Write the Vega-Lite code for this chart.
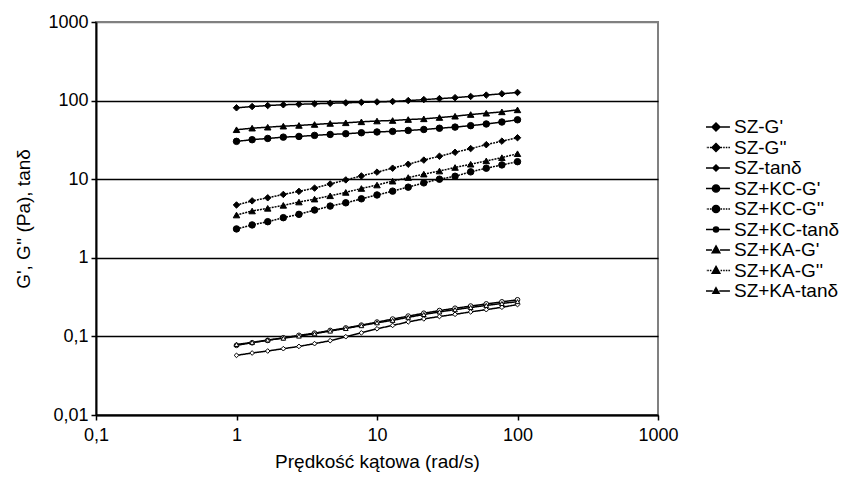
{
  "$schema": "https://vega.github.io/schema/vega-lite/v6.json",
  "autosize": {"type": "none"},
  "padding": {"left": 96, "top": 22, "right": 187, "bottom": 65},
  "width": 562,
  "height": 393,
  "background": "white",
  "config": {
    "view": {"stroke": "#808080", "strokeWidth": 2},
    "font": "Liberation Sans",
    "axis": {"labelFont": "Liberation Sans", "titleFont": "Liberation Sans", "labelColor": "black", "titleColor": "black", "titleFontWeight": "normal", "domainColor": "black", "domainWidth": 2, "tickColor": "black", "tickWidth": 1.5, "tickSize": 5, "labelFontSize": 18, "titleFontSize": 19}
  },
  "data": {"values": [
    {"x":1,"v":81,"series":"SZ-G'"},{"x":1.292,"v":84,"series":"SZ-G'"},{"x":1.668,"v":86.5,"series":"SZ-G'"},{"x":2.154,"v":88.5,"series":"SZ-G'"},{"x":2.783,"v":89.8,"series":"SZ-G'"},{"x":3.594,"v":91,"series":"SZ-G'"},{"x":4.642,"v":92.5,"series":"SZ-G'"},{"x":5.995,"v":93.7,"series":"SZ-G'"},{"x":7.743,"v":95,"series":"SZ-G'"},{"x":10,"v":96.2,"series":"SZ-G'"},{"x":12.92,"v":97.5,"series":"SZ-G'"},{"x":16.68,"v":100,"series":"SZ-G'"},{"x":21.54,"v":103,"series":"SZ-G'"},{"x":27.83,"v":106,"series":"SZ-G'"},{"x":35.94,"v":109,"series":"SZ-G'"},{"x":46.42,"v":113,"series":"SZ-G'"},{"x":59.95,"v":117.5,"series":"SZ-G'"},{"x":77.43,"v":122,"series":"SZ-G'"},{"x":100,"v":127,"series":"SZ-G'"},
    {"x":1,"v":4.7,"series":"SZ-G''"},{"x":1.292,"v":5.3,"series":"SZ-G''"},{"x":1.668,"v":5.8,"series":"SZ-G''"},{"x":2.154,"v":6.4,"series":"SZ-G''"},{"x":2.783,"v":7.0,"series":"SZ-G''"},{"x":3.594,"v":7.7,"series":"SZ-G''"},{"x":4.642,"v":8.7,"series":"SZ-G''"},{"x":5.995,"v":9.8,"series":"SZ-G''"},{"x":7.743,"v":11.0,"series":"SZ-G''"},{"x":10,"v":12.3,"series":"SZ-G''"},{"x":12.92,"v":13.8,"series":"SZ-G''"},{"x":16.68,"v":15.5,"series":"SZ-G''"},{"x":21.54,"v":17.5,"series":"SZ-G''"},{"x":27.83,"v":19.6,"series":"SZ-G''"},{"x":35.94,"v":22.0,"series":"SZ-G''"},{"x":46.42,"v":24.5,"series":"SZ-G''"},{"x":59.95,"v":27.5,"series":"SZ-G''"},{"x":77.43,"v":30.5,"series":"SZ-G''"},{"x":100,"v":33.7,"series":"SZ-G''"},
    {"x":1,"v":0.0574,"series":"SZ-tanδ"},{"x":1.292,"v":0.0615,"series":"SZ-tanδ"},{"x":1.668,"v":0.0652,"series":"SZ-tanδ"},{"x":2.154,"v":0.0698,"series":"SZ-tanδ"},{"x":2.783,"v":0.0746,"series":"SZ-tanδ"},{"x":3.594,"v":0.0809,"series":"SZ-tanδ"},{"x":4.642,"v":0.0882,"series":"SZ-tanδ"},{"x":5.995,"v":0.0991,"series":"SZ-tanδ"},{"x":7.743,"v":0.111,"series":"SZ-tanδ"},{"x":10,"v":0.125,"series":"SZ-tanδ"},{"x":12.92,"v":0.138,"series":"SZ-tanδ"},{"x":16.68,"v":0.153,"series":"SZ-tanδ"},{"x":21.54,"v":0.167,"series":"SZ-tanδ"},{"x":27.83,"v":0.179,"series":"SZ-tanδ"},{"x":35.94,"v":0.191,"series":"SZ-tanδ"},{"x":46.42,"v":0.205,"series":"SZ-tanδ"},{"x":59.95,"v":0.219,"series":"SZ-tanδ"},{"x":77.43,"v":0.235,"series":"SZ-tanδ"},{"x":100,"v":0.254,"series":"SZ-tanδ"},
    {"x":1,"v":30.3,"series":"SZ+KC-G'"},{"x":1.292,"v":31.8,"series":"SZ+KC-G'"},{"x":1.668,"v":33.0,"series":"SZ+KC-G'"},{"x":2.154,"v":34.3,"series":"SZ+KC-G'"},{"x":2.783,"v":35.0,"series":"SZ+KC-G'"},{"x":3.594,"v":36.1,"series":"SZ+KC-G'"},{"x":4.642,"v":37.1,"series":"SZ+KC-G'"},{"x":5.995,"v":37.9,"series":"SZ+KC-G'"},{"x":7.743,"v":39.0,"series":"SZ+KC-G'"},{"x":10,"v":39.9,"series":"SZ+KC-G'"},{"x":12.92,"v":40.6,"series":"SZ+KC-G'"},{"x":16.68,"v":41.7,"series":"SZ+KC-G'"},{"x":21.54,"v":42.9,"series":"SZ+KC-G'"},{"x":27.83,"v":44.5,"series":"SZ+KC-G'"},{"x":35.94,"v":46.0,"series":"SZ+KC-G'"},{"x":46.42,"v":48.0,"series":"SZ+KC-G'"},{"x":59.95,"v":50.4,"series":"SZ+KC-G'"},{"x":77.43,"v":53.4,"series":"SZ+KC-G'"},{"x":100,"v":57.0,"series":"SZ+KC-G'"},
    {"x":1,"v":2.33,"series":"SZ+KC-G''"},{"x":1.292,"v":2.62,"series":"SZ+KC-G''"},{"x":1.668,"v":2.88,"series":"SZ+KC-G''"},{"x":2.154,"v":3.24,"series":"SZ+KC-G''"},{"x":2.783,"v":3.57,"series":"SZ+KC-G''"},{"x":3.594,"v":4.05,"series":"SZ+KC-G''"},{"x":4.642,"v":4.55,"series":"SZ+KC-G''"},{"x":5.995,"v":5.01,"series":"SZ+KC-G''"},{"x":7.743,"v":5.63,"series":"SZ+KC-G''"},{"x":10,"v":6.30,"series":"SZ+KC-G''"},{"x":12.92,"v":7.05,"series":"SZ+KC-G''"},{"x":16.68,"v":7.92,"series":"SZ+KC-G''"},{"x":21.54,"v":8.98,"series":"SZ+KC-G''"},{"x":27.83,"v":10.0,"series":"SZ+KC-G''"},{"x":35.94,"v":10.9,"series":"SZ+KC-G''"},{"x":46.42,"v":12.4,"series":"SZ+KC-G''"},{"x":59.95,"v":13.8,"series":"SZ+KC-G''"},{"x":77.43,"v":15.2,"series":"SZ+KC-G''"},{"x":100,"v":16.7,"series":"SZ+KC-G''"},
    {"x":1,"v":0.077,"series":"SZ+KC-tanδ"},{"x":1.292,"v":0.083,"series":"SZ+KC-tanδ"},{"x":1.668,"v":0.089,"series":"SZ+KC-tanδ"},{"x":2.154,"v":0.096,"series":"SZ+KC-tanδ"},{"x":2.783,"v":0.103,"series":"SZ+KC-tanδ"},{"x":3.594,"v":0.110,"series":"SZ+KC-tanδ"},{"x":4.642,"v":0.119,"series":"SZ+KC-tanδ"},{"x":5.995,"v":0.128,"series":"SZ+KC-tanδ"},{"x":7.743,"v":0.139,"series":"SZ+KC-tanδ"},{"x":10,"v":0.152,"series":"SZ+KC-tanδ"},{"x":12.92,"v":0.166,"series":"SZ+KC-tanδ"},{"x":16.68,"v":0.181,"series":"SZ+KC-tanδ"},{"x":21.54,"v":0.197,"series":"SZ+KC-tanδ"},{"x":27.83,"v":0.213,"series":"SZ+KC-tanδ"},{"x":35.94,"v":0.228,"series":"SZ+KC-tanδ"},{"x":46.42,"v":0.243,"series":"SZ+KC-tanδ"},{"x":59.95,"v":0.259,"series":"SZ+KC-tanδ"},{"x":77.43,"v":0.275,"series":"SZ+KC-tanδ"},{"x":100,"v":0.292,"series":"SZ+KC-tanδ"},
    {"x":1,"v":42.6,"series":"SZ+KA-G'"},{"x":1.292,"v":44.6,"series":"SZ+KA-G'"},{"x":1.668,"v":45.9,"series":"SZ+KA-G'"},{"x":2.154,"v":47.3,"series":"SZ+KA-G'"},{"x":2.783,"v":48.3,"series":"SZ+KA-G'"},{"x":3.594,"v":49.7,"series":"SZ+KA-G'"},{"x":4.642,"v":51.2,"series":"SZ+KA-G'"},{"x":5.995,"v":52.2,"series":"SZ+KA-G'"},{"x":7.743,"v":53.7,"series":"SZ+KA-G'"},{"x":10,"v":55.0,"series":"SZ+KA-G'"},{"x":12.92,"v":55.8,"series":"SZ+KA-G'"},{"x":16.68,"v":57.4,"series":"SZ+KA-G'"},{"x":21.54,"v":58.6,"series":"SZ+KA-G'"},{"x":27.83,"v":60.9,"series":"SZ+KA-G'"},{"x":35.94,"v":63.3,"series":"SZ+KA-G'"},{"x":46.42,"v":66.5,"series":"SZ+KA-G'"},{"x":59.95,"v":69.1,"series":"SZ+KA-G'"},{"x":77.43,"v":71.9,"series":"SZ+KA-G'"},{"x":100,"v":76.2,"series":"SZ+KA-G'"},
    {"x":1,"v":3.50,"series":"SZ+KA-G''"},{"x":1.292,"v":3.94,"series":"SZ+KA-G''"},{"x":1.668,"v":4.26,"series":"SZ+KA-G''"},{"x":2.154,"v":4.65,"series":"SZ+KA-G''"},{"x":2.783,"v":5.12,"series":"SZ+KA-G''"},{"x":3.594,"v":5.58,"series":"SZ+KA-G''"},{"x":4.642,"v":6.15,"series":"SZ+KA-G''"},{"x":5.995,"v":6.79,"series":"SZ+KA-G''"},{"x":7.743,"v":7.62,"series":"SZ+KA-G''"},{"x":10,"v":8.43,"series":"SZ+KA-G''"},{"x":12.92,"v":9.44,"series":"SZ+KA-G''"},{"x":16.68,"v":10.5,"series":"SZ+KA-G''"},{"x":21.54,"v":11.6,"series":"SZ+KA-G''"},{"x":27.83,"v":12.7,"series":"SZ+KA-G''"},{"x":35.94,"v":14.1,"series":"SZ+KA-G''"},{"x":46.42,"v":15.5,"series":"SZ+KA-G''"},{"x":59.95,"v":17.1,"series":"SZ+KA-G''"},{"x":77.43,"v":18.8,"series":"SZ+KA-G''"},{"x":100,"v":21.1,"series":"SZ+KA-G''"},
    {"x":1,"v":0.079,"series":"SZ+KA-tanδ"},{"x":1.292,"v":0.084,"series":"SZ+KA-tanδ"},{"x":1.668,"v":0.090,"series":"SZ+KA-tanδ"},{"x":2.154,"v":0.095,"series":"SZ+KA-tanδ"},{"x":2.783,"v":0.101,"series":"SZ+KA-tanδ"},{"x":3.594,"v":0.108,"series":"SZ+KA-tanδ"},{"x":4.642,"v":0.117,"series":"SZ+KA-tanδ"},{"x":5.995,"v":0.126,"series":"SZ+KA-tanδ"},{"x":7.743,"v":0.137,"series":"SZ+KA-tanδ"},{"x":10,"v":0.149,"series":"SZ+KA-tanδ"},{"x":12.92,"v":0.160,"series":"SZ+KA-tanδ"},{"x":16.68,"v":0.175,"series":"SZ+KA-tanδ"},{"x":21.54,"v":0.190,"series":"SZ+KA-tanδ"},{"x":27.83,"v":0.205,"series":"SZ+KA-tanδ"},{"x":35.94,"v":0.219,"series":"SZ+KA-tanδ"},{"x":46.42,"v":0.233,"series":"SZ+KA-tanδ"},{"x":59.95,"v":0.248,"series":"SZ+KA-tanδ"},{"x":77.43,"v":0.262,"series":"SZ+KA-tanδ"},{"x":100,"v":0.277,"series":"SZ+KA-tanδ"}
  ]},
  "encoding": {
    "x": {"field": "x", "type": "quantitative", "scale": {"type": "log", "domain": [0.1, 1000]},
      "axis": {"title": "Prędkość kątowa (rad/s)", "values": [0.1, 1, 10, 100, 1000], "labelExpr": "replace(format(datum.value, '~g'), '.', ',')", "grid": false, "labelPadding": 6, "titlePadding": 8, "labelFlush": false}},
    "y": {"field": "v", "type": "quantitative", "scale": {"type": "log", "domain": [0.01, 1000]},
      "axis": {"title": "G', G'' (Pa), tanδ", "values": [0.01, 0.1, 1, 10, 100, 1000], "labelExpr": "replace(format(datum.value, '~g'), '.', ',')", "grid": true, "gridColor": {"condition": {"test": "datum.value >= 999", "value": "#808080"}, "value": "black"}, "gridWidth": 1.5, "labelPadding": 3, "titlePadding": 14, "labelFlush": false}}
  },
  "layer": [
    {
      "mark": {"type": "line", "color": "black", "strokeWidth": 1.5},
      "encoding": {
        "detail": {"field": "series", "type": "nominal"},
        "strokeDash": {"field": "series", "type": "nominal", "legend": null,
          "scale": {"domain": ["SZ-G'", "SZ-G''", "SZ-tanδ", "SZ+KC-G'", "SZ+KC-G''", "SZ+KC-tanδ", "SZ+KA-G'", "SZ+KA-G''", "SZ+KA-tanδ"],
            "range": [[1, 0], [2, 1], [1, 0], [1, 0], [2, 1], [1, 0], [1, 0], [2, 1], [1, 0]]}}
      }
    },
    {
      "mark": {"type": "point", "filled": true, "color": "black", "stroke": "black", "strokeWidth": 1, "opacity": 1},
      "encoding": {
        "shape": {"field": "series", "type": "nominal", "legend": null,
          "scale": {"domain": ["SZ-G'", "SZ-G''", "SZ-tanδ", "SZ+KC-G'", "SZ+KC-G''", "SZ+KC-tanδ", "SZ+KA-G'", "SZ+KA-G''", "SZ+KA-tanδ"],
            "range": ["diamond", "diamond", "diamond", "circle", "circle", "circle", "triangle-up", "triangle-up", "triangle-up"]}},
        "fill": {"condition": {"test": "indexof(datum.series, 'tan') >= 0", "value": "white"}, "value": "black"},
        "size": {"condition": {"test": "indexof(datum.series, 'tan') >= 0", "value": 22}, "value": 42}
      }
    },
    {
      "transform": [{"filter": "datum.x < 0"}],
      "mark": {"type": "point", "filled": true, "color": "black", "stroke": "black", "strokeWidth": 1.5, "opacity": 1},
      "encoding": {
        "shape": {"field": "series", "type": "nominal",
          "scale": {"domain": ["SZ-G'", "SZ-G''", "SZ-tanδ", "SZ+KC-G'", "SZ+KC-G''", "SZ+KC-tanδ", "SZ+KA-G'", "SZ+KA-G''", "SZ+KA-tanδ"],
            "range": [
              "M-1.55,0H-0.45M0.45,0H1.55M0,-0.44L0.44,0L0,0.44L-0.44,0Z",
              "M-1.55,0H-1.38M-1.26,0H-1.09M-0.97,0H-0.8M-0.68,0H-0.51M0.51,0H0.68M0.8,0H0.97M1.09,0H1.26M1.38,0H1.55M0,-0.44L0.44,0L0,0.44L-0.44,0Z",
              "M-1.55,0H-0.36M0.36,0H1.55M0,-0.34L0.34,0L0,0.34L-0.34,0Z",
              "M-1.55,0H-0.45M0.45,0H1.55M-0.4,0A0.4,0.4,0,1,0,0.4,0A0.4,0.4,0,1,0,-0.4,0Z",
              "M-1.55,0H-1.38M-1.26,0H-1.09M-0.97,0H-0.8M-0.68,0H-0.51M0.51,0H0.68M0.8,0H0.97M1.09,0H1.26M1.38,0H1.55M-0.4,0A0.4,0.4,0,1,0,0.4,0A0.4,0.4,0,1,0,-0.4,0Z",
              "M-1.55,0H-0.3M0.3,0H1.55M-0.28,0A0.28,0.28,0,1,0,0.28,0A0.28,0.28,0,1,0,-0.28,0Z",
              "M-1.55,0H-0.45M0.45,0H1.55M0,-0.45L0.42,0.3L-0.42,0.3Z",
              "M-1.55,0H-1.38M-1.26,0H-1.09M-0.97,0H-0.8M-0.68,0H-0.51M0.51,0H0.68M0.8,0H0.97M1.09,0H1.26M1.38,0H1.55M0,-0.45L0.42,0.3L-0.42,0.3Z",
              "M-1.55,0H-0.36M0.36,0H1.55M0,-0.36L0.34,0.24L-0.34,0.24Z"
            ]},
          "legend": {"title": null, "orient": "none", "legendX": 610, "legendY": 95, "symbolSize": 324, "clipHeight": 20, "rowPadding": 0.5, "labelFontSize": 19, "labelFont": "Liberation Sans", "labelColor": "black", "labelOffset": 8,
            "encode": {"symbols": {"update": {"stroke": {"value": "black"}, "strokeWidth": [{"test": "indexof(datum.value, 'tan') >= 0", "value": 1.2}, {"value": 1.5}], "fill": [{"test": "indexof(datum.value, 'tan') >= 0", "value": "white"}, {"value": "black"}], "opacity": {"value": 1}}}}}}
      }
    }
  ],
  "resolve": {"scale": {"shape": "independent"}, "legend": {"shape": "independent"}}
}
